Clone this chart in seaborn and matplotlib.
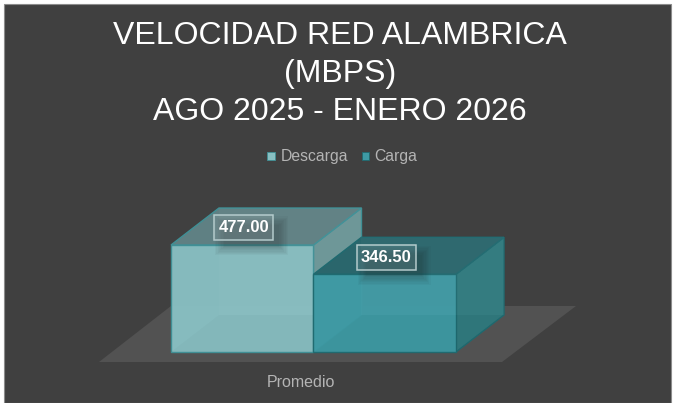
import matplotlib
matplotlib.use("Agg")
import matplotlib.pyplot as plt
import seaborn as sns
import pandas as pd
from matplotlib.patches import Polygon, Rectangle

categories = ["Promedio"]
series_names = ["Descarga", "Carga"]
series_values = [477.00, 346.50]
value_labels = ["477.00", "346.50"]
title_text = "VELOCIDAD RED ALAMBRICA\n(MBPS)\nAGO 2025 - ENERO 2026"

W, H = 675, 403
df = pd.DataFrame({"cat": categories * 2, "serie": series_names, "val": series_values})
front = {"Descarga": "#88BFC2", "Carga": "#3E9AA4"}
top_c = ["#5F8083", "#2A666C"]
side_c = ["#6B9596", "#30797D"]
edge_c = ["#3F9096", "#1F6A70"]

sns.set_theme(style="dark")
plt.rcParams["font.family"] = ["Liberation Sans", "DejaVu Sans"]
fig = plt.figure(figsize=(W / 100, H / 100), dpi=100, facecolor="white")
bg = "#404040"
fig.patches.append(Rectangle((4 / W, 1 - 403 / H), 667 / W, 399 / H, transform=fig.transFigure,
                             facecolor=bg, edgecolor="#8C8C8C", lw=0.8, zorder=-1))
L, R, T, B = 4, 671, 4, 368
ax = fig.add_axes([L / W, 1 - B / H, (R - L) / W, (B - T) / H])
ax.patch.set_alpha(0)
xpx = 142.5 / 0.4
ypx = 107 / 477

sns.barplot(data=df, x="cat", y="val", hue="serie", hue_order=series_names, palette=front,
            width=0.8, dodge=True, legend=False, ax=ax, zorder=3, saturation=1, native_scale=False)
ax.set_xlim((L - 313.5) / xpx, (R - 313.5) / xpx)
ax.set_ylim((352 - B) / ypx, (352 - T) / ypx)

dx, dy = 48 / xpx, 37 / ypx
bars = sorted(ax.patches, key=lambda p: p.get_x())
x0 = bars[0].get_x()
x2 = bars[1].get_x() + bars[1].get_width()

# floor
f_lo, f_hi = -10 / ypx, 46 / ypx
ax.add_patch(Polygon([(x0 - 72 / xpx, f_lo), (x2 + 46 / xpx, f_lo), (x2 + 120 / xpx, f_hi), (x0 + 0 / xpx, f_hi)],
                     facecolor="#525252", edgecolor="none", zorder=1))

for i, b in enumerate(bars):
    x, w, h = b.get_x(), b.get_width(), b.get_height()
    z = 2 + i * 2
    # back and inner edges seen through the translucent front
    ax.add_patch(Polygon([(x + w, 0), (x + w + dx, dy), (x + w + dx, h + dy), (x + w, h)],
                         facecolor=side_c[i], edgecolor=edge_c[i], lw=1, zorder=z + 0.1))
    ax.add_patch(Polygon([(x, h), (x + w, h), (x + w + dx, h + dy), (x + dx, h + dy)],
                         facecolor=top_c[i], edgecolor=edge_c[i], lw=1, zorder=z + 0.2))
    b.set_facecolor(front[series_names[i]])
    b.set_alpha(0.97)
    b.set_edgecolor(edge_c[i])
    b.set_linewidth(1)
    b.set_zorder(z + 0.3)
    ax.add_patch(Polygon([(x + dx, dy), (x + w + dx, dy), (x + w + dx, h + dy), (x + dx, h + dy)],
                         facecolor="#FFFFFF", alpha=0.025, edgecolor="none", zorder=z + 0.4))
    ax.add_patch(Polygon([(x, 0), (x + dx, dy), (x + w + dx, dy), (x + w, 0)],
                         facecolor="#000000", alpha=0.02, edgecolor="none", zorder=z + 0.4))

    # value label with soft shadow and translucent box
    cx = x + w / 2 + 1.5 / xpx
    cy = h + 17 / ypx
    bw, bh = 59 / xpx, 25 / ypx
    for k in range(8):
        g = (8 - k) * 2.5
        ax.add_patch(Rectangle((cx - bw / 2 + (8 - g / 2 + 3) / xpx, cy - bh / 2 - (8 + g / 2 - 3) / ypx),
                               bw + (g - 6) / xpx, bh + (g - 6) / ypx, facecolor="#202020", alpha=0.035,
                               edgecolor="none", zorder=8))
    ax.add_patch(Rectangle((cx - bw / 2, cy - bh / 2), bw, bh, facecolor="#FFFFFF", alpha=0.10,
                           edgecolor="none", zorder=9))
    ax.add_patch(Rectangle((cx - bw / 2, cy - bh / 2), bw, bh, facecolor="none",
                           edgecolor="#B4CBCC", lw=1.1, zorder=9.5))
    ax.text(cx, cy, value_labels[i], color="white", fontsize=12, fontweight="bold",
            ha="center", va="center", zorder=10)

ax.set_xlabel("")
ax.set_ylabel("")
ax.set_yticks([])
ax.set_xticks([-12.5 / xpx])
ax.set_xticklabels(categories, color="#B4B4B4", fontsize=11.5)
ax.tick_params(axis="x", length=0, pad=5)
ax.grid(False)
for s in ax.spines.values():
    s.set_visible(False)

fig.text(340 / W, 1 - 74 / H, title_text, color="white", fontsize=23, ha="center", va="center",
         linespacing=1.36)

# legend
leg_y = 156
for name, sx, tx, ms in zip(series_names, [271, 365], [281, 374], [8, 7]):
    fig.patches.append(Rectangle(((sx - ms / 2) / W, 1 - (leg_y + ms / 2) / H), ms / W, ms / H,
                                 transform=fig.transFigure, facecolor=front[name],
                                 edgecolor=edge_c[series_names.index(name)], lw=0.6))
    fig.text(tx / W, 1 - leg_y / H, name, color="#B4B4B4", fontsize=11.3, ha="left", va="center")

fig.savefig("out.png", dpi=100, facecolor="white")
